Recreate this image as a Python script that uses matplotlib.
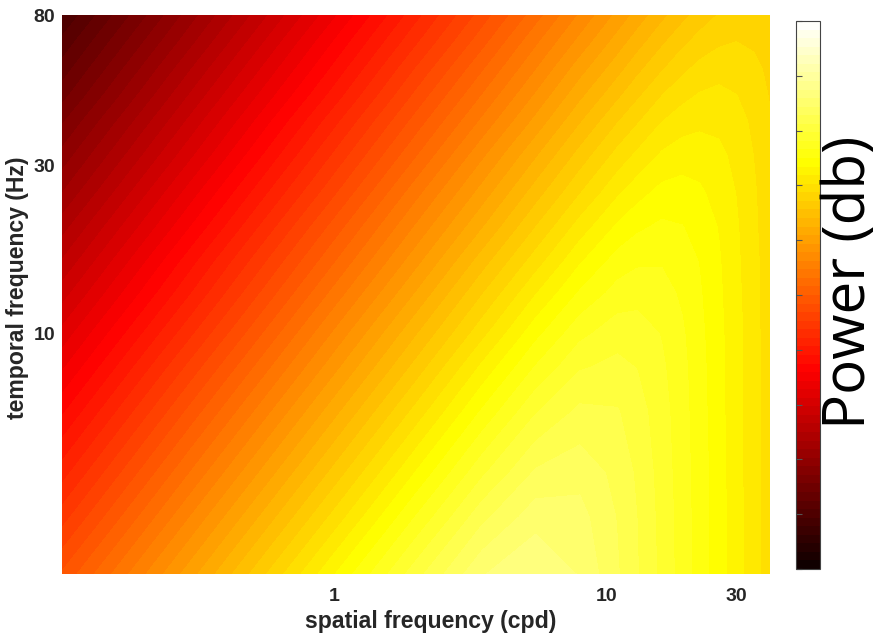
import numpy as np
import matplotlib
matplotlib.use("Agg")
import matplotlib.pyplot as plt

# spatial frequency (cpd) grid and temporal frequency (Hz) grid
spatial_freq = [0.1, 0.3, 1, 2, 3.5, 5.5, 8, 11, 13, 16, 19, 22, 26, 30, 35, 40]
temporal_freq = [2.07, 3, 4, 6, 8, 10, 13, 16, 20, 25, 32, 40, 47, 56, 67, 80]

# power (dB), one row per temporal frequency, columns follow spatial_freq
power_2 = [-37.6, -28.1, -17.6, -11.7, -7.5, -6.2, -7.5, -9.8, -11.1, -12.8, -14.3, -15.6, -17.0, -18.2, -19.6, -20.7]
power_3 = [-40.9, -31.3, -20.9, -14.9, -10.3, -7.9, -8.2, -10.0, -11.2, -12.9, -14.3, -15.6, -17.0, -18.2, -19.6, -20.7]
power_4 = [-43.4, -33.8, -23.4, -17.4, -12.7, -9.7, -9.1, -10.3, -11.4, -13.0, -14.4, -15.6, -17.0, -18.3, -19.6, -20.7]
power_6 = [-46.9, -37.3, -26.9, -20.9, -16.1, -12.6, -10.9, -11.1, -11.9, -13.2, -14.5, -15.7, -17.1, -18.3, -19.6, -20.8]
power_8 = [-49.4, -39.8, -29.4, -23.4, -18.5, -14.9, -12.6, -12.1, -12.5, -13.5, -14.6, -15.8, -17.1, -18.3, -19.6, -20.8]
power_10 = [-51.3, -41.8, -31.3, -25.3, -20.5, -16.7, -14.1, -13.0, -13.1, -13.8, -14.8, -15.9, -17.2, -18.3, -19.6, -20.8]
power_13 = [-53.6, -44.1, -33.6, -27.6, -22.7, -18.9, -16.1, -14.5, -14.2, -14.5, -15.2, -16.1, -17.3, -18.4, -19.7, -20.8]
power_16 = [-55.4, -45.8, -35.4, -29.4, -24.5, -20.7, -17.7, -15.7, -15.2, -15.1, -15.6, -16.3, -17.4, -18.5, -19.7, -20.8]
power_20 = [-57.3, -47.8, -37.3, -31.3, -26.5, -22.6, -19.5, -17.3, -16.5, -16.0, -16.2, -16.7, -17.6, -18.6, -19.8, -20.9]
power_25 = [-59.3, -49.7, -39.3, -33.2, -28.4, -24.5, -21.4, -19.0, -18.0, -17.1, -17.0, -17.3, -18.0, -18.8, -19.9, -20.9]
power_32 = [-61.4, -51.9, -41.4, -35.4, -30.5, -26.6, -23.4, -20.9, -19.8, -18.6, -18.1, -18.1, -18.5, -19.1, -20.1, -21.0]
power_40 = [-63.3, -53.8, -43.3, -37.3, -32.5, -28.6, -25.3, -22.7, -21.5, -20.1, -19.4, -19.1, -19.1, -19.6, -20.3, -21.2]
power_47 = [-64.8, -55.2, -44.8, -38.7, -33.9, -30.0, -26.7, -24.1, -22.8, -21.3, -20.4, -19.9, -19.7, -20.0, -20.6, -21.4]
power_56 = [-66.3, -56.7, -46.3, -40.2, -35.4, -31.5, -28.2, -25.6, -24.2, -22.7, -21.6, -20.9, -20.5, -20.6, -21.0, -21.6]
power_67 = [-67.8, -58.3, -47.8, -41.8, -37.0, -33.0, -29.8, -27.1, -25.7, -24.1, -22.9, -22.1, -21.5, -21.3, -21.5, -21.9]
power_80 = [-69.4, -59.8, -49.4, -43.3, -38.5, -34.6, -31.3, -28.6, -27.2, -25.5, -24.3, -23.3, -22.5, -22.1, -22.1, -22.4]

x_ticks = [1, 10, 30]
y_ticks = [10, 30, 80]
x_range = [0.1, 40]
y_range = [2.07, 80]
db_range = [-77, 4]

Z = np.array([power_2, power_3, power_4, power_6, power_8, power_10, power_13,
              power_16, power_20, power_25, power_32, power_40, power_47,
              power_56, power_67, power_80])
LX, LY = np.meshgrid(np.log10(spatial_freq), np.log10(temporal_freq))

W, H = 880, 633
fig = plt.figure(figsize=(W / 100, H / 100), dpi=100)
ax = fig.add_axes([62 / W, 1 - 574 / H, (770 - 62) / W, (574 - 15) / H])
cax = fig.add_axes([796 / W, 1 - 569 / H, 24 / W, (569 - 21) / H])

levels = np.linspace(db_range[0], db_range[1], 65)
cs = ax.contourf(LX, LY, Z, levels=levels, cmap="hot",
                 vmin=db_range[0], vmax=db_range[1])

ax.set_xlim(np.log10(x_range[0]), np.log10(x_range[1]))
ax.set_ylim(np.log10(y_range[0]), np.log10(y_range[1]))

text_color = "#262626"
tick_font = dict(family="Liberation Sans", weight="bold", size=14)
ax.set_xticks(np.log10(x_ticks))
ax.set_xticklabels([str(t) for t in x_ticks], fontdict=tick_font, color=text_color)
ax.set_yticks(np.log10(y_ticks))
ax.set_yticklabels([str(t) for t in y_ticks], fontdict=tick_font, color=text_color)
ax.tick_params(axis="x", length=0, pad=10)
ax.tick_params(axis="y", length=0, pad=5)
for s in ax.spines.values():
    s.set_visible(False)

label_font = dict(family="Liberation Sans", weight="bold", size=16.6)
ax.set_xlabel("spatial frequency (cpd)", fontdict=label_font, color=text_color, labelpad=4)
ax.set_ylabel("temporal frequency (Hz)", fontdict=label_font, color=text_color, labelpad=3.5)
ax.xaxis.label.set_x(0.521)
ax.yaxis.label.set_y(0.5125)

cbar = fig.colorbar(cs, cax=cax)
cbar.set_ticks(np.linspace(db_range[0], db_range[1], 11))
cax.set_yticklabels([])
cax.yaxis.set_ticks_position("left")
cax.tick_params(direction="in", length=4, width=0.8, color="#555555")
cbar.outline.set_linewidth(0.8)
cbar.outline.set_edgecolor("#444444")
fig.text(850 / W, 1 - 282 / H, "Power (db)", rotation=90, ha="center", va="center",
         family="Open Sans", size=42, color="black")

fig.savefig("out.png", dpi=100)
